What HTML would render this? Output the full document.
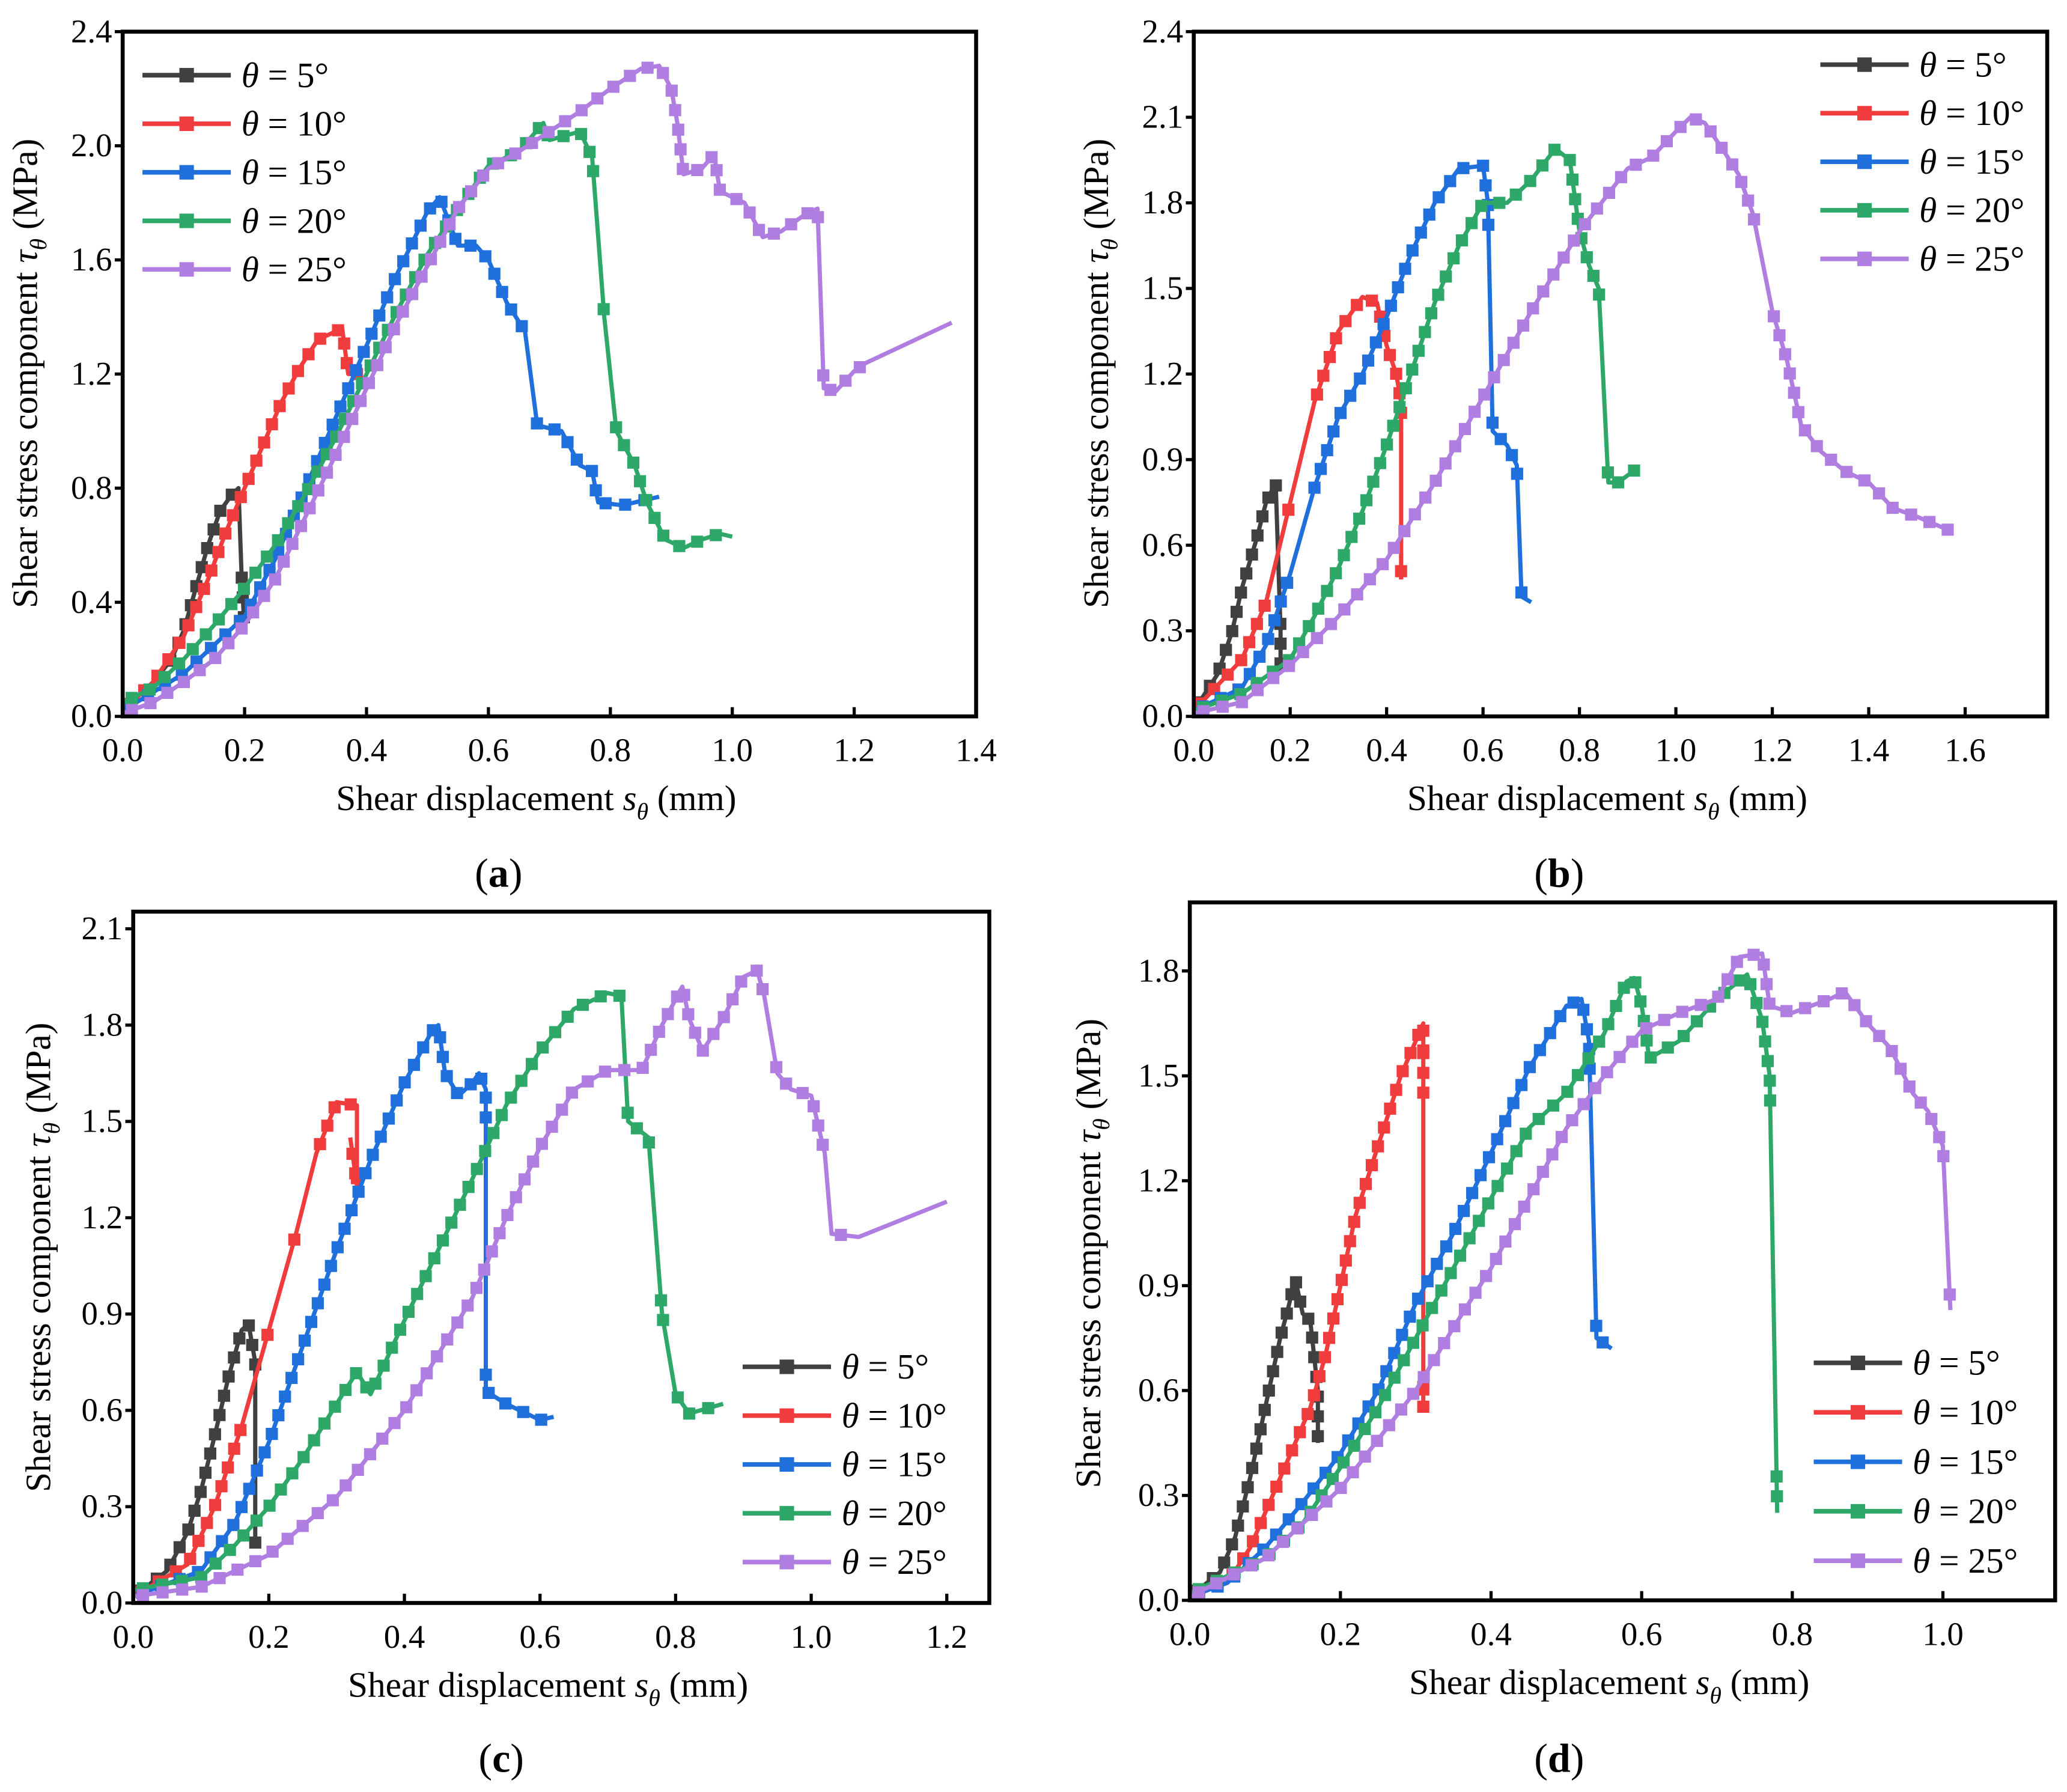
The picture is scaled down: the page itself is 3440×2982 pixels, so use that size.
<!DOCTYPE html>
<html><head><meta charset="utf-8"><style>
html,body{margin:0;padding:0;background:#fff;}
svg, svg text, svg tspan{font-family:'Liberation Serif', serif !important;}
</style></head><body>
<svg id="fig" width="3440" height="2977" viewBox="0 0 1567 1356" preserveAspectRatio="none" xmlns="http://www.w3.org/2000/svg" style="font-family:'Liberation Serif', serif"></svg>
<script>
const seriesLabels = ["5°","10°","15°","20°","25°"];
const seriesColors = ["#404040","#f03c3c","#1f6fdc","#2ea868","#b07ee0"];

const a5=[[0,0.02],[0.05,0.12],[0.08,0.2],[0.1,0.3],[0.12,0.45],[0.14,0.6],[0.16,0.72],[0.18,0.78],[0.19,0.8],[0.195,0.5],[0.2,0.3]];
const a10=[[0,0.02],[0.05,0.12],[0.1,0.28],[0.14,0.48],[0.17,0.65],[0.2,0.8],[0.23,0.95],[0.26,1.1],[0.29,1.22],[0.32,1.32],[0.36,1.36],[0.37,1.2],[0.39,1.2]];
const a15=[[0,0.02],[0.1,0.15],[0.2,0.35],[0.25,0.55],[0.3,0.8],[0.35,1.05],[0.4,1.3],[0.45,1.55],[0.5,1.77],[0.52,1.82],[0.55,1.65],[0.58,1.65],[0.6,1.6],[0.63,1.45],[0.66,1.35],[0.68,1.02],[0.72,1.0],[0.75,0.88],[0.77,0.86],[0.78,0.75],[0.82,0.74],[0.88,0.77]];
const a20=[[0,0.05],[0.05,0.1],[0.1,0.2],[0.15,0.32],[0.2,0.45],[0.25,0.6],[0.3,0.78],[0.35,0.98],[0.4,1.2],[0.45,1.42],[0.5,1.62],[0.55,1.78],[0.6,1.93],[0.65,1.98],[0.69,2.08],[0.7,2.02],[0.75,2.05],[0.77,1.96],[0.79,1.4],[0.81,1.0],[0.84,0.88],[0.86,0.75],[0.89,0.62],[0.92,0.59],[0.95,0.62],[0.98,0.64],[1.0,0.63]];
const a25=[[0,0.01],[0.05,0.05],[0.1,0.12],[0.15,0.2],[0.2,0.32],[0.25,0.48],[0.3,0.7],[0.35,0.92],[0.4,1.15],[0.45,1.38],[0.5,1.58],[0.55,1.78],[0.6,1.92],[0.65,1.98],[0.7,2.05],[0.75,2.12],[0.8,2.2],[0.85,2.27],[0.88,2.28],[0.9,2.2],[0.91,2.08],[0.92,1.9],[0.95,1.92],[0.97,1.97],[0.98,1.84],[1.02,1.8],[1.05,1.68],[1.08,1.7],[1.12,1.76],[1.14,1.78],[1.15,1.15],[1.17,1.14],[1.2,1.21],[1.22,1.24],[1.36,1.38]];

const b5=[[0,0.02],[0.05,0.15],[0.08,0.3],[0.1,0.45],[0.13,0.62],[0.15,0.75],[0.17,0.82],[0.18,0.3],[0.18,0.15]];
const b10=[[0,0.02],[0.1,0.2],[0.15,0.4],[0.2,0.75],[0.25,1.1],[0.3,1.35],[0.35,1.47],[0.38,1.45],[0.4,1.3],[0.42,1.2],[0.43,1.1],[0.43,0.48]];
const b15=[[0,0.02],[0.1,0.1],[0.15,0.25],[0.2,0.5],[0.25,0.8],[0.3,1.05],[0.35,1.2],[0.4,1.4],[0.45,1.62],[0.5,1.8],[0.55,1.92],[0.6,1.93],[0.61,1.8],[0.62,1.0],[0.65,0.95],[0.67,0.88],[0.68,0.42],[0.7,0.4]];
const b20=[[0,0.02],[0.1,0.08],[0.2,0.2],[0.25,0.35],[0.3,0.52],[0.35,0.72],[0.4,0.95],[0.45,1.2],[0.5,1.45],[0.55,1.65],[0.6,1.8],[0.65,1.8],[0.7,1.88],[0.75,1.99],[0.78,1.95],[0.8,1.7],[0.82,1.58],[0.84,1.5],[0.86,0.82],[0.88,0.82],[0.92,0.87]];
const b25=[[0,0.01],[0.1,0.05],[0.2,0.18],[0.3,0.35],[0.4,0.55],[0.5,0.82],[0.6,1.12],[0.7,1.42],[0.8,1.7],[0.9,1.92],[0.95,1.96],[1.0,2.05],[1.03,2.1],[1.06,2.08],[1.1,1.98],[1.13,1.9],[1.16,1.76],[1.2,1.42],[1.23,1.25],[1.26,1.02],[1.3,0.93],[1.35,0.86],[1.4,0.82],[1.45,0.73],[1.5,0.7],[1.57,0.65]];

const c5=[[0,0.02],[0.05,0.1],[0.08,0.22],[0.1,0.35],[0.12,0.52],[0.14,0.7],[0.16,0.85],[0.17,0.87],[0.18,0.75],[0.18,0.18]];
const c10=[[0,0.02],[0.08,0.12],[0.12,0.3],[0.16,0.55],[0.2,0.85],[0.24,1.15],[0.27,1.4],[0.3,1.56],[0.33,1.55],[0.33,1.3],[0.32,1.45]];
const c15=[[0,0.02],[0.1,0.1],[0.15,0.25],[0.2,0.5],[0.25,0.8],[0.3,1.1],[0.35,1.38],[0.4,1.62],[0.44,1.78],[0.45,1.8],[0.46,1.65],[0.48,1.58],[0.5,1.62],[0.51,1.65],[0.52,1.6],[0.52,0.66],[0.55,0.62],[0.6,0.57],[0.62,0.58]];
const c20=[[0,0.04],[0.1,0.08],[0.15,0.18],[0.2,0.3],[0.25,0.45],[0.3,0.62],[0.33,0.72],[0.35,0.65],[0.4,0.88],[0.45,1.1],[0.5,1.32],[0.55,1.55],[0.6,1.72],[0.65,1.85],[0.7,1.9],[0.72,1.89],[0.73,1.5],[0.76,1.45],[0.78,0.9],[0.8,0.65],[0.82,0.59],[0.87,0.62]];
const c25=[[0,0.02],[0.1,0.05],[0.2,0.15],[0.3,0.33],[0.4,0.6],[0.5,0.95],[0.55,1.2],[0.6,1.42],[0.65,1.6],[0.7,1.66],[0.75,1.66],[0.78,1.8],[0.81,1.92],[0.82,1.82],[0.84,1.72],[0.87,1.82],[0.9,1.95],[0.92,1.97],[0.93,1.9],[0.95,1.65],[0.97,1.6],[1.0,1.58],[1.02,1.4],[1.03,1.15],[1.07,1.14],[1.2,1.25]];

const d5=[[0,0.01],[0.04,0.08],[0.06,0.18],[0.08,0.35],[0.1,0.55],[0.12,0.75],[0.13,0.83],[0.14,0.92],[0.15,0.82],[0.16,0.8],[0.17,0.6],[0.17,0.45]];
const d10=[[0,0.01],[0.05,0.05],[0.08,0.15],[0.1,0.25],[0.13,0.4],[0.16,0.55],[0.18,0.7],[0.2,0.9],[0.22,1.1],[0.25,1.3],[0.28,1.5],[0.3,1.6],[0.31,1.65],[0.31,0.55],[0.31,1.5],[0.31,1.62]];
const d15=[[0,0.01],[0.05,0.05],[0.1,0.15],[0.15,0.28],[0.2,0.42],[0.25,0.6],[0.3,0.85],[0.35,1.05],[0.4,1.28],[0.45,1.52],[0.5,1.7],[0.52,1.72],[0.53,1.6],[0.54,0.75],[0.56,0.72]];
const d20=[[0,0.02],[0.1,0.12],[0.15,0.22],[0.2,0.38],[0.25,0.55],[0.3,0.75],[0.35,0.95],[0.4,1.15],[0.45,1.35],[0.5,1.45],[0.55,1.62],[0.58,1.77],[0.59,1.78],[0.6,1.7],[0.61,1.55],[0.65,1.6],[0.7,1.72],[0.74,1.79],[0.76,1.66],[0.77,1.5],[0.78,0.25]];
const d25=[[0,0.01],[0.1,0.12],[0.2,0.32],[0.3,0.6],[0.35,0.78],[0.4,0.95],[0.45,1.15],[0.5,1.35],[0.55,1.5],[0.6,1.63],[0.65,1.68],[0.7,1.72],[0.73,1.84],[0.76,1.85],[0.77,1.7],[0.8,1.68],[0.85,1.72],[0.87,1.74],[0.9,1.65],[0.93,1.58],[0.96,1.45],[0.98,1.4],[1.0,1.3],[1.01,0.83]];

const xTicksA=[0,0.2,0.4,0.6,0.8,1.0,1.2,1.4];
const yTicksA=[0,0.4,0.8,1.2,1.6,2.0,2.4];
const xTicksB=[0,0.2,0.4,0.6,0.8,1.0,1.2,1.4,1.6];
const yTicksB=[0,0.3,0.6,0.9,1.2,1.5,1.8,2.1,2.4];
const xTicksC=[0,0.2,0.4,0.6,0.8,1.0,1.2];
const yTicksC=[0,0.3,0.6,0.9,1.2,1.5,1.8,2.1];
const xTicksD=[0,0.2,0.4,0.6,0.8,1.0];
const yTicksD=[0,0.3,0.6,0.9,1.2,1.5,1.8];

const NS="http://www.w3.org/2000/svg";
const svg=document.getElementById('fig');
function mk(tag,attrs,parent){const e=document.createElementNS(NS,tag);for(const k in attrs)e.setAttribute(k,attrs[k]);if(tag==='text')e.setAttribute('style',"font-family:'Liberation Serif', serif");(parent||svg).appendChild(e);return e;}

const panels=[
 {id:'a',L:93,R:740,T:24,B:543,xmax:1.4,ymax:2.4,xt:xTicksA,yt:yTicksA,series:[a5,a10,a15,a20,a25],leg:{x:108,y:57,dy:36.8},lab:[378,662],ylabX:20,ylabY:283,noMarkEnd:true},
 {id:'b',L:905,R:1552,T:24,B:543,xmax:1.7702,ymax:2.4,xt:xTicksB,yt:yTicksB,series:[b5,b10,b15,b20,b25],leg:{x:1380,y:49,dy:36.8},lab:[1182,662],ylabX:832,ylabY:283},
 {id:'c',L:101,R:750,T:691,B:1215,xmax:1.2627,ymax:2.1+13/243.3,xt:xTicksC,yt:yTicksC,series:[c5,c10,c15,c20,c25],leg:{x:563,y:1036,dy:37},lab:[380,1333],ylabX:30,ylabY:953,noMarkEnd:true},
 {id:'d',L:902,R:1558,T:684,B:1213,xmax:1.149,ymax:1.996,xt:xTicksD,yt:yTicksD,series:[d5,d10,d15,d20,d25],leg:{x:1375,y:1033,dy:37.5},lab:[1182,1333],ylabX:826,ylabY:950}
];

panels.forEach(p=>{
 const g=mk('g',{});
 
 
 const sx=v=>p.L+(p.R-p.L)*v/p.xmax;
 const sy=v=>p.B-(p.B-p.T)*v/p.ymax;
 p.series.forEach((s,i)=>{
  const sg=mk('g',{},g);
  
  
  const P=s.map(d=>[sx(d[0]),sy(d[1])]);
  mk('polyline',{points:P.map(q=>q[0].toFixed(1)+','+q[1].toFixed(1)).join(' '),fill:'none',stroke:seriesColors[i],'stroke-width':3.2,'stroke-linejoin':'round'},sg);
  let nLast=P.length-1;
  if(p.noMarkEnd&&i===4)nLast=P.length-2;
  const step=15;let acc=step/2;
  for(let j=0;j<nLast;j++){
   const [x0,y0]=P[j],[x1,y1]=P[j+1];
   const len=Math.hypot(x1-x0,y1-y0);
   const steep=Math.abs(y1-y0)>3*Math.abs(x1-x0)&&len>60;
   while(acc<=len){
    const f=acc/len;
    if(!steep||f<0.1||f>0.9){
     const r=mk('rect',{x:x0+(x1-x0)*f-4.6,y:y0+(y1-y0)*f-4.6,width:9.2,height:9.2,fill:seriesColors[i]},sg);
     
     
    }
    acc+=step;
   }
   acc-=len;
  }
 });
 const fr=mk('rect',{x:p.L,y:p.T,width:p.R-p.L,height:p.B-p.T,fill:'none',stroke:'#000','stroke-width':3},g);
 
 
 p.xt.forEach(v=>{
  const x=sx(v);
  mk('line',{x1:x,y1:p.B,x2:x,y2:p.B-7,stroke:'#000','stroke-width':2.4},g);
  const t=mk('text',{x:x,y:p.B+34,'font-size':25,'text-anchor':'middle'},g);
  t.textContent=v.toFixed(1);
  
  
 });
 p.yt.forEach(v=>{
  const y=sy(v);
  mk('line',{x1:p.L,y1:y,x2:p.L-6,y2:y,stroke:'#000','stroke-width':2.4},g);
  const t=mk('text',{x:p.L-8,y:y+8,'font-size':25,'text-anchor':'end'},g);
  t.textContent=v.toFixed(1);
  
  
 });
 const xt=mk('text',{x:(p.L+p.R)/2-10,y:p.B+71,'font-size':27,'text-anchor':'middle'},g);
 xt.innerHTML='Shear displacement <tspan font-style="italic">s</tspan><tspan font-style="italic" font-size="18" dy="7">θ</tspan><tspan dy="-7"> (mm)</tspan>';
 
 
 const yt=mk('text',{x:0,y:0,'font-size':27,'text-anchor':'middle',transform:`translate(${p.ylabX+8},${p.ylabY}) rotate(-90)`},g);
 yt.innerHTML='Shear stress component <tspan font-style="italic">τ</tspan><tspan font-style="italic" font-size="18" dy="7">θ</tspan><tspan dy="-7"> (MPa)</tspan>';
 
 
 const lg=mk('g',{},g);
 
 
 seriesLabels.forEach((lab,i)=>{
  const y=p.leg.y+i*p.leg.dy;
  const e=mk('g',{},lg);
  
  
  mk('line',{x1:p.leg.x,y1:y,x2:p.leg.x+67,y2:y,stroke:seriesColors[i],'stroke-width':3.5},e);
  mk('rect',{x:p.leg.x+28,y:y-5.5,width:11,height:11,fill:seriesColors[i]},e);
  const t=mk('text',{x:p.leg.x+75,y:y+9,'font-size':27},e);
  t.innerHTML='<tspan font-style="italic">θ</tspan> = '+lab;
 });
 const pl=mk('text',{x:p.lab[0],y:p.lab[1]+10,'font-size':31,'text-anchor':'middle'},g);
 pl.innerHTML='(<tspan font-weight="bold">'+p.id+'</tspan>)';
 
 
});
</script>
</body></html>
